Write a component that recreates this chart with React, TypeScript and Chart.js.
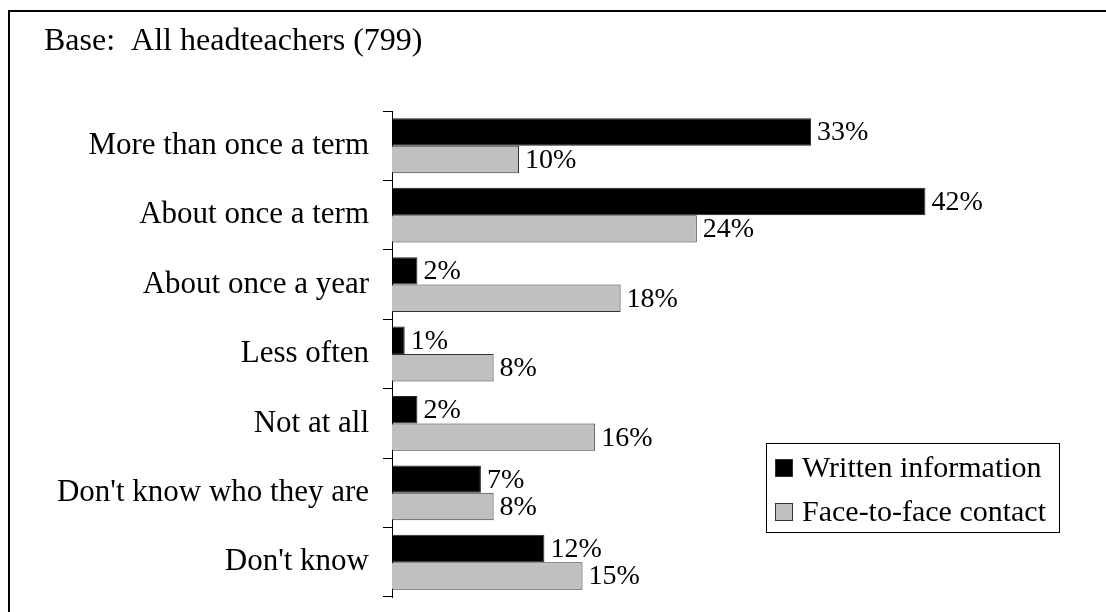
import React, { useEffect, useRef } from "react";
import { Chart, registerables } from "chart.js";

Chart.register(...registerables);

const TITLE = "Base:  All headteachers (799)";
const categories = [
  "More than once a term",
  "About once a term",
  "About once a year",
  "Less often",
  "Not at all",
  "Don't know who they are",
  "Don't know",
];
const seriesNames = ["Written information", "Face-to-face contact"];
const written = [33, 42, 2, 1, 2, 7, 12];
const faceToFace = [10, 24, 18, 8, 16, 8, 15];

const FONT = "'Liberation Serif', 'Times New Roman', Times, serif";

const framePlugin = {
  id: "frameAndTitle",
  afterDraw(chart: any) {
    const ctx = chart.ctx;
    ctx.save();
    ctx.strokeStyle = "#000";
    ctx.lineWidth = 2;
    ctx.beginPath();
    ctx.moveTo(9, 612);
    ctx.lineTo(9, 11);
    ctx.lineTo(1106, 11);
    ctx.stroke();
    ctx.fillStyle = "#000";
    ctx.font = `32px ${FONT}`;
    ctx.textAlign = "left";
    ctx.textBaseline = "alphabetic";
    ctx.fillText(TITLE, 44, 50);
    ctx.restore();
  },
};

const valueLabelPlugin = {
  id: "valueLabels",
  afterDatasetsDraw(chart: any) {
    const ctx = chart.ctx;
    ctx.save();
    ctx.fillStyle = "#000";
    ctx.font = `28px ${FONT}`;
    ctx.textAlign = "left";
    ctx.textBaseline = "middle";
    chart.data.datasets.forEach((ds: any, di: number) => {
      const meta = chart.getDatasetMeta(di);
      meta.data.forEach((bar: any, i: number) => {
        ctx.fillText(`${ds.data[i]}%`, bar.x + 6, bar.y + 1);
      });
    });
    ctx.restore();
  },
};

const boxLegendPlugin = {
  id: "boxLegend",
  afterDraw(chart: any) {
    const ctx = chart.ctx;
    ctx.save();
    const left = 766;
    const top = 443;
    const w = 293;
    const h = 89;
    ctx.strokeStyle = "#000";
    ctx.lineWidth = 1;
    ctx.strokeRect(left + 0.5, top + 0.5, w, h);
    ctx.font = `30px ${FONT}`;
    ctx.textBaseline = "middle";
    ctx.textAlign = "left";
    chart.data.datasets.forEach((ds: any, i: number) => {
      const cy = top + 25 + i * 44;
      ctx.fillStyle = ds.backgroundColor;
      ctx.fillRect(left + 9, cy - 9, 18, 18);
      ctx.strokeStyle = "#333";
      ctx.strokeRect(left + 9.5, cy - 8.5, 17, 17);
      ctx.fillStyle = "#000";
      ctx.fillText(ds.label, left + 36, cy + 1);
    });
    ctx.restore();
  },
};

export default function App() {
  const ref = useRef<HTMLCanvasElement | null>(null);
  useEffect(() => {
    if (!ref.current) return;
    const chart = new Chart(ref.current, {
      type: "bar",
      data: {
        labels: categories,
        datasets: [
          {
            label: seriesNames[0],
            data: written,
            backgroundColor: "#000000",
            borderColor: "#222222",
            borderWidth: 1,
            categoryPercentage: 0.79,
            barPercentage: 1,
          },
          {
            label: seriesNames[1],
            data: faceToFace,
            backgroundColor: "#c0c0c0",
            borderColor: "#333333",
            borderWidth: 1,
            categoryPercentage: 0.79,
            barPercentage: 1,
          },
        ],
      },
      options: {
        indexAxis: "y",
        animation: false,
        responsive: false,
        layout: { padding: { left: 0, right: 79, top: 111, bottom: 15 } },
        plugins: {
          legend: { display: false },
          title: { display: false },
          tooltip: { enabled: false },
        },
        scales: {
          x: { display: false, min: 0, max: 50 },
          y: {
            afterFit(scale: any) {
              scale.width = 392;
              scale.paddingTop = 0;
              scale.paddingBottom = 0;
            },
            grid: {
              offset: true,
              drawOnChartArea: false,
              drawTicks: true,
              tickLength: 9,
              color: "#000",
            },
            border: { display: true, color: "#000", width: 1 },
            ticks: {
              color: "#000",
              padding: 14,
              font: { family: FONT, size: 31 },
            },
          },
        },
      },
      plugins: [framePlugin, valueLabelPlugin, boxLegendPlugin],
    });
    return () => chart.destroy();
  }, []);
  return (
    <canvas
      ref={ref}
      width={1106}
      height={612}
      style={{ position: "absolute", left: 0, top: 0, display: "block" }}
    />
  );
}
